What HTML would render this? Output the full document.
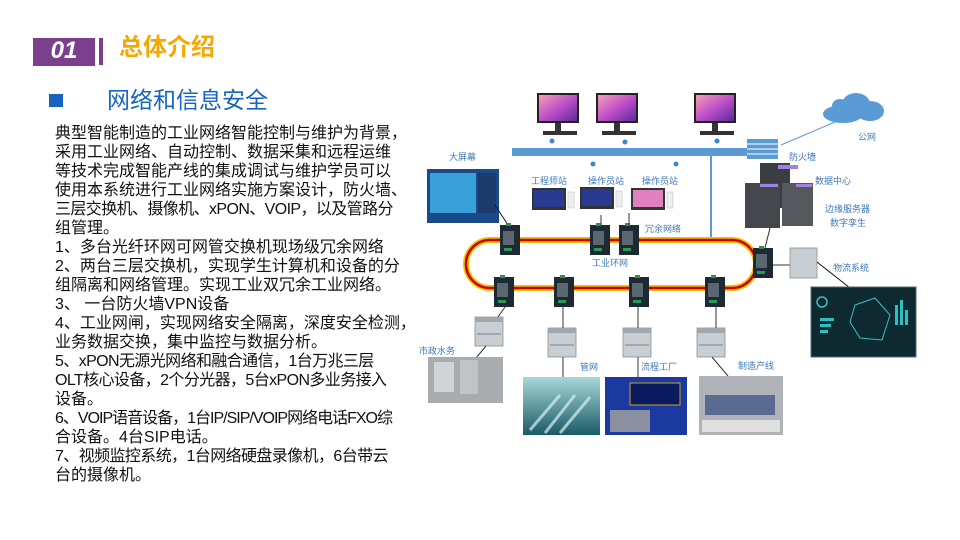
<!DOCTYPE html>
<html><head><meta charset="utf-8"><style>
body{margin:0;width:960px;height:540px;background:#fff;overflow:hidden;position:relative;font-family:"Liberation Sans","Noto Sans CJK SC",sans-serif}
.l{position:absolute;left:55px;font-size:16px;line-height:19px;white-space:nowrap;color:#111;letter-spacing:0}
.n{letter-spacing:-0.6px}
</style></head><body>
<div style="position:absolute;left:33px;top:38px;width:62px;height:28px;background:#7b3f8e"></div>
<div style="position:absolute;left:33px;top:36px;width:62px;height:30px;color:#fff;font:italic bold 24px 'Liberation Sans',sans-serif;text-align:center;line-height:30px">01</div>
<div style="position:absolute;left:99px;top:38px;width:4px;height:27px;background:#7b3f8e"></div>
<div style="position:absolute;left:119px;top:33px;font-size:24px;line-height:30px;color:#f5a800;font-weight:bold;font-family:'Liberation Sans','Noto Sans CJK SC',sans-serif">总体介绍</div>
<div style="position:absolute;left:49px;top:94px;width:14px;height:13px;background:#1565c0"></div>
<div style="position:absolute;left:107px;top:85px;font-size:23px;line-height:30px;color:#1565c0">网络和信息安全</div>
<div class="l" style="top:124px">典型智能制造的工业网络智能控制与维护为背景，</div>
<div class="l" style="top:143px">采用工业网络、自动控制、数据采集和远程运维</div>
<div class="l" style="top:162px">等技术完成智能产线的集成调试与维护学员可以</div>
<div class="l" style="top:181px">使用本系统进行工业网络实施方案设计，防火墙、</div>
<div class="l n" style="top:200px">三层交换机、摄像机、xPON、VOIP，以及管路分</div>
<div class="l" style="top:219px">组管理。</div>
<div class="l" style="top:238px">1、多台光纤环网可网管交换机现场级冗余网络</div>
<div class="l" style="top:257px">2、两台三层交换机，实现学生计算机和设备的分</div>
<div class="l" style="top:276px">组隔离和网络管理。实现工业双冗余工业网络。</div>
<div class="l" style="top:295px">3、 一台防火墙VPN设备</div>
<div class="l" style="top:314px">4、工业网闸，实现网络安全隔离，深度安全检测，</div>
<div class="l" style="top:333px">业务数据交换，集中监控与数据分析。</div>
<div class="l n" style="top:352px">5、xPON无源光网络和融合通信，1台万兆三层</div>
<div class="l n" style="top:371px">OLT核心设备，2个分光器，5台xPON多业务接入</div>
<div class="l" style="top:390px">设备。</div>
<div class="l n" style="top:409px;letter-spacing:-1px">6、VOIP语音设备，1台IP/SIP/VOIP网络电话FXO综</div>
<div class="l" style="top:428px">合设备。4台SIP电话。</div>
<div class="l n" style="top:447px">7、视频监控系统，1台网络硬盘录像机，6台带云</div>
<div class="l" style="top:466px">台的摄像机。</div>

<svg style="position:absolute;left:0;top:0" width="960" height="540" font-family="Liberation Sans,Noto Sans CJK SC,sans-serif" font-size="9" fill="#3d78b8">
<defs>
<linearGradient id="scr" x1="0" y1="0" x2="1" y2="1"><stop offset="0" stop-color="#f4a0b8"/><stop offset="0.5" stop-color="#c050c8"/><stop offset="1" stop-color="#5a2aa0"/></linearGradient>
<linearGradient id="pipe" x1="0" y1="0" x2="0" y2="1"><stop offset="0" stop-color="#a8d8d8"/><stop offset="1" stop-color="#1a5a68"/></linearGradient>
<g id="sw"><rect width="20" height="30" fill="#1e2a33"/><rect x="3" y="6" width="11" height="14" fill="#5a6670"/><rect x="4" y="23" width="8" height="3" fill="#2a9a5a"/><rect x="6" y="-2" width="5" height="3" fill="#3a8a4a"/></g>
<g id="plc"><rect width="28" height="29" fill="#c8ced2" stroke="#8a9298" stroke-width="0.8"/><rect x="0" y="0" width="28" height="5" fill="#a0a8ae"/><line x1="2" y1="17" x2="26" y2="17" stroke="#7a848a"/></g>
<g id="mon"><rect width="42" height="30" fill="#222"/><rect x="2" y="2" width="38" height="26" fill="url(#scr)"/><rect x="18" y="30" width="6" height="8" fill="#333"/><rect x="6" y="38" width="34" height="4" fill="#333"/></g>
<g id="st"><rect width="34" height="22" fill="#333"/><rect x="2" y="2" width="30" height="17" fill="#2a3a90"/><rect x="36" y="4" width="6" height="16" fill="#eee" stroke="#bbb" stroke-width="0.5"/></g>
</defs>
<use href="#mon" x="537" y="93"/><use href="#mon" x="596" y="93"/><use href="#mon" x="694" y="93"/>
<circle cx="552" cy="141" r="2.5" fill="#3d86d0"/><circle cx="625" cy="142" r="2.5" fill="#3d86d0"/><circle cx="717" cy="141" r="2.5" fill="#3d86d0"/>
<circle cx="593" cy="164" r="2.5" fill="#3d86d0"/><circle cx="676" cy="164" r="2.5" fill="#3d86d0"/>
<rect x="512" y="148" width="238" height="8" fill="#5b9bd5"/>
<line x1="711" y1="156" x2="711" y2="240" stroke="#5b9bd5" stroke-width="2"/>
<rect x="747" y="139" width="31" height="20" fill="#5b9bd5"/>
<g stroke="#fff" stroke-width="1"><line x1="747" y1="144" x2="778" y2="144"/><line x1="747" y1="149" x2="778" y2="149"/><line x1="747" y1="154" x2="778" y2="154"/></g>
<line x1="781" y1="145" x2="835" y2="122" stroke="#5b9bd5" stroke-width="1"/>
<g fill="#5b9bd5"><ellipse cx="843" cy="114" rx="20" ry="9"/><ellipse cx="856" cy="104" rx="14" ry="11"/><ellipse cx="870" cy="111" rx="14" ry="10"/><ellipse cx="840" cy="106" rx="8" ry="7"/></g>
<text x="858" y="140">公网</text>
<rect x="427" y="169" width="72" height="54" fill="#1a4a8a"/><rect x="430" y="173" width="46" height="40" fill="#3aa0d8"/><rect x="478" y="173" width="18" height="40" fill="#1c3a6a"/>
<line x1="495" y1="205" x2="508" y2="225" stroke="#111" stroke-width="1"/>
<text x="449" y="160">大屏幕</text>
<use href="#st" x="532" y="188"/><use href="#st" x="580" y="187"/><use href="#st" x="631" y="188"/>
<rect x="633" y="190" width="30" height="17" fill="#e080c0"/>
<text x="531" y="184">工程师站</text><text x="588" y="184">操作员站</text><text x="642" y="184">操作员站</text>
<rect x="466" y="240" width="290" height="48" rx="24" fill="none" stroke="#f5c000" stroke-width="6"/>
<rect x="466" y="240" width="290" height="48" rx="24" fill="none" stroke="#c80000" stroke-width="2.5"/>
<use href="#sw" x="500" y="225"/><use href="#sw" x="590" y="225"/><use href="#sw" x="619" y="225"/>
<use href="#sw" x="753" y="248"/>
<use href="#sw" x="494" y="277"/><use href="#sw" x="554" y="277"/><use href="#sw" x="629" y="277"/><use href="#sw" x="705" y="277"/>
<line x1="601" y1="215" x2="601" y2="225" stroke="#333"/><line x1="629" y1="213" x2="629" y2="225" stroke="#333"/>
<text x="645" y="232">冗余网络</text><text x="592" y="266">工业环网</text>
<rect x="760" y="163" width="30" height="45" fill="#3a3d42"/><rect x="745" y="183" width="35" height="45" fill="#44474c"/><rect x="782" y="183" width="31" height="43" fill="#55585d"/>
<rect x="778" y="165" width="20" height="4" fill="#a080e0"/><rect x="760" y="184" width="18" height="3" fill="#a080e0"/><rect x="796" y="184" width="16" height="3" fill="#a080e0"/>
<text x="789" y="160">防火墙</text><text x="815" y="184">数据中心</text><text x="825" y="212">边缘服务器</text><text x="830" y="226">数字孪生</text>
<line x1="770" y1="228" x2="765" y2="248" stroke="#333"/>
<line x1="773" y1="265" x2="790" y2="265" stroke="#333"/>
<rect x="790" y="248" width="27" height="30" fill="#c8ced2" stroke="#8a9298" stroke-width="0.8"/>
<line x1="817" y1="262" x2="850" y2="288" stroke="#111"/>
<text x="833" y="271">物流系统</text>
<rect x="811" y="287" width="105" height="70" fill="#0e2a30" stroke="#4a6a70"/>
<path d="M855 305 L875 298 L890 315 L882 340 L860 338 L850 322Z" fill="none" stroke="#3ac0c0"/>
<g fill="#2ac0c0"><rect x="820" y="318" width="14" height="3"/><rect x="820" y="324" width="11" height="3"/><rect x="820" y="330" width="8" height="3"/><rect x="895" y="305" width="3" height="20"/><rect x="900" y="300" width="3" height="25"/><rect x="905" y="310" width="3" height="15"/></g>
<circle cx="822" cy="302" r="5" fill="none" stroke="#3ac0c0" stroke-width="1.5"/>
<use href="#plc" x="475" y="317"/><use href="#plc" x="548" y="328"/><use href="#plc" x="623" y="328"/><use href="#plc" x="697" y="328"/>
<g stroke="#333"><line x1="505" y1="307" x2="498" y2="317"/><line x1="563" y1="307" x2="563" y2="328"/><line x1="638" y1="307" x2="638" y2="328"/><line x1="716" y1="307" x2="716" y2="328"/>
<line x1="486" y1="346" x2="476" y2="358"/><line x1="563" y1="357" x2="563" y2="377"/><line x1="638" y1="357" x2="638" y2="377"/><line x1="712" y1="357" x2="728" y2="376"/></g>
<rect x="428" y="357" width="75" height="46" fill="#a8acae"/><rect x="434" y="362" width="20" height="30" fill="#d0d4d6"/><rect x="460" y="360" width="18" height="34" fill="#c0c4c6"/>
<rect x="523" y="377" width="77" height="58" fill="url(#pipe)"/>
<g stroke="#d8f0f0" stroke-width="3" opacity="0.7"><line x1="530" y1="430" x2="560" y2="395"/><line x1="545" y1="433" x2="575" y2="395"/><line x1="560" y1="433" x2="590" y2="397"/></g>
<rect x="605" y="377" width="82" height="58" fill="#1a3aa0"/><rect x="630" y="383" width="50" height="22" fill="#0a1a60" stroke="#d0a020"/><rect x="610" y="410" width="40" height="22" fill="#8a90a0"/>
<rect x="699" y="376" width="84" height="59" fill="#b0b4b8"/><rect x="705" y="395" width="70" height="20" fill="#5a6a90"/><rect x="702" y="420" width="78" height="12" fill="#e0e0e0"/>
<text x="419" y="354">市政水务</text><text x="580" y="370">管网</text><text x="641" y="370">流程工厂</text><text x="738" y="369">制造产线</text>
</svg>
</body></html>
